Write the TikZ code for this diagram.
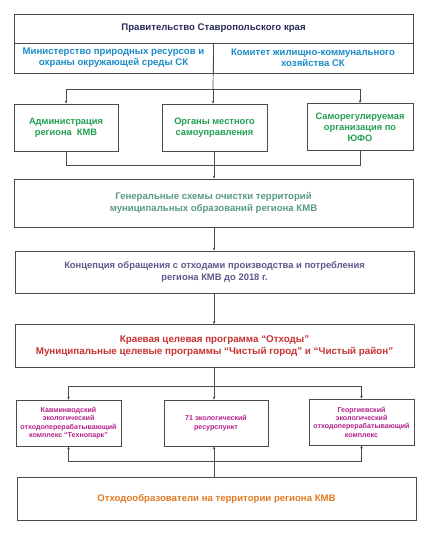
\documentclass[tikz,border=0pt]{standalone}
\usepackage{fontspec}
\setmainfont{Liberation Sans}
\usetikzlibrary{positioning,arrows.meta,calc}

\definecolor{linec}{HTML}{4A4A4A}
\definecolor{govc}{HTML}{2A2A5C}
\definecolor{minc}{HTML}{1A8CC8}
\definecolor{grnc}{HTML}{22A052}
\definecolor{genc}{HTML}{5A9A88}
\definecolor{konc}{HTML}{5C5A8C}
\definecolor{redc}{HTML}{C83232}
\definecolor{magc}{HTML}{B4208C}
\definecolor{orac}{HTML}{E27A22}

\tikzset{
  box/.style={draw=linec, line width=0.8pt, align=center, inner sep=1pt,
    font=\bfseries\fontsize{9.6}{11.2}\selectfont},
  smallbox/.style={box, font=\bfseries\fontsize{7.1}{8.4}\selectfont},
  link/.style={draw=linec, line width=0.7pt},
  >={Stealth[length=3pt,width=2.6pt]}
}

\begin{document}
\begin{tikzpicture}[x=1pt,y=-1pt]

  \useasboundingbox[fill=white] (0,0) rectangle (430,540);

  % top block
  \node[box,text=govc] (gov) at (213.5,28.5) [minimum width=399pt,minimum height=29pt] {Правительство Ставропольского края};
  \node[box,text=minc] (min) at (113.5,58) [minimum width=199pt,minimum height=30pt] {Министерство природных ресурсов и\\охраны окружающей среды СК};
  \node[box,text=minc] (kom) at (313,58) [minimum width=200pt,minimum height=30pt] {Комитет жилищно-коммунального\\хозяйства СК};

  % second row
  \node[box,text=grnc,font=\bfseries\fontsize{9.3}{11.2}\selectfont] (adm) at (66,127.5) [minimum width=104pt,minimum height=47pt] {Администрация\\региона\ \ КМВ};
  \node[box,text=grnc,font=\bfseries\fontsize{9.3}{11.2}\selectfont] (org) at (214.5,127.5) [minimum width=105pt,minimum height=47pt] {Органы местного\\самоуправления};
  \node[box,text=grnc,font=\bfseries\fontsize{9.3}{11.2}\selectfont] (sro) at (360,127) [minimum width=106pt,minimum height=47pt] {Саморегулируемая\\организация по\\ЮФО};

  % programmes
  \node[box,text=genc] (gen) at (213.5,203) [minimum width=399pt,minimum height=48pt] {Генеральные схемы очистки территорий\\муниципальных образований региона КМВ};
  \node[box,text=konc,font=\bfseries\fontsize{9.4}{12.5}\selectfont] (conc) at (214.5,272) [minimum width=399pt,minimum height=42pt] {Концепция обращения с отходами производства и потребления\\региона КМВ до 2018 г.};
  \node[box,text=redc,font=\bfseries\fontsize{9.8}{12}\selectfont] (kraev) at (214.5,346) [minimum width=399pt,minimum height=43pt] {Краевая целевая программа “Отходы"\\Муниципальные целевые программы “Чистый город" и “Чистый район"};

  % bottom row
  \node[smallbox,text=magc] (kav) at (68.5,423) [minimum width=105pt,minimum height=46pt] {Кавминводский\\экологический\\отходоперерабатывающий\\комплекс “Технопарк"};
  \node[smallbox,text=magc] (res) at (216,423) [minimum width=104pt,minimum height=46pt] {71 экологический\\ресурспункт};
  \node[smallbox,text=magc] (geo) at (361.5,422) [minimum width=105pt,minimum height=46pt] {Георгиевский\\экологический\\отходоперерабатывающий\\комплекс};

  \node[box,text=orac] (src) at (216.5,498.5) [minimum width=399pt,minimum height=43pt] {Отходообразователи на территории региона КМВ};

  % junctions
  \coordinate (j1) at (213,89);
  \coordinate (j2) at (214,165);
  \coordinate (j3) at (214,386);
  \coordinate (j4) at (214,461);

  \path[link] (gov.south) -- (j1);
  \path[link,->] (j1) -| (adm.north);
  \path[link,->] (j1) -- (j1 |- org.north);
  \path[link,->] (j1) -| (sro.north);

  \path[link] (adm.south) |- (j2);
  \path[link] (sro.south) |- (j2);
  \path[link] (j2 |- org.south) -- (j2);
  \path[link,->] (j2) -- (j2 |- gen.north);

  \path[link,->] (gen.south -| j2) -- (j2 |- conc.north);
  \path[link,->] (conc.south -| j2) -- (j2 |- kraev.north);

  \path[link] (kraev.south -| j3) -- (j3);
  \path[link,->] (j3) -| (kav.north);
  \path[link,->] (j3) -- (j3 |- res.north);
  \path[link,->] (j3) -| (geo.north);

  \path[link] (src.north -| j4) -- (j4);
  \path[link,->] (j4) -| (kav.south);
  \path[link,->] (j4) -- (j4 |- res.south);
  \path[link,->] (j4) -| (geo.south);

\end{tikzpicture}
\end{document}
